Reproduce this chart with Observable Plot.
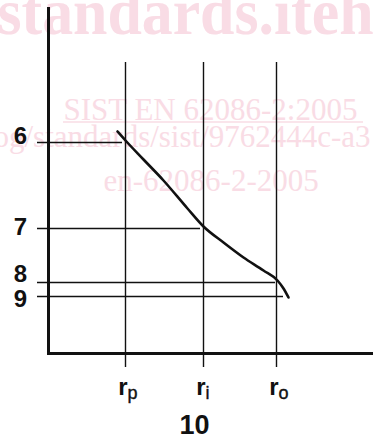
<!DOCTYPE html>
<html>
<head>
<meta charset="utf-8">
<script src="https://cdn.jsdelivr.net/npm/d3@7"></script>
<script src="https://cdn.jsdelivr.net/npm/@observablehq/plot@0.6"></script>
<style>
  html, body { margin: 0; padding: 0; background: #fff; }
  #chart { width: 373px; height: 441px; overflow: hidden; }
</style>
</head>
<body>
<div id="chart"></div>
<script>
// ---- data (arbitrary diagram units) ----
const radiusNames = ["p", "i", "o"];          // r_p, r_i, r_o
const radiusX = [77, 155, 228];

const levelLabels = ["6", "7", "8", "9"];
const levelY = [211, 125, 71, 57];
const levelEndX = [74, 152, 227, 235];

const curveX = [69, 77, 95, 115, 139, 155, 175, 195, 215, 229, 235, 240];
const curveY = [222, 213, 194, 173, 145, 127, 111, 96, 83, 73, 65, 56];

const axisLabel = "10";

const watermark = [
  "standards.iteh",
  "SIST EN 62086-2:2005",
  "og/standards/sist/9762444c-a3",
  "en-62086-2-2005"
];

// ---- build tables ----
const radii = radiusNames.map((n, k) => ({name: n, x: radiusX[k]}));
const levels = levelLabels.map((l, k) => ({label: l, y: levelY[k], x2: levelEndX[k]}));
const curve = curveX.map((x, k) => ({x, y: curveY[k]}));

const ink = "#111";
const pink = "#f9dce5";
const sans = "'Liberation Sans', Arial, Helvetica, sans-serif";
const serif = "'Liberation Serif', 'Times New Roman', serif";

// label nudges (px) so 8 and 9 do not collide
const nudge = {"6": -6, "7": -1, "8": -8, "9": 3};

const wm = (text, dx, dy, size, weight) => Plot.text([text], {
  text: d => d, frameAnchor: "top-left", dx, dy,
  textAnchor: "start", lineAnchor: "bottom",
  fontSize: size, fontWeight: weight, fontFamily: serif, fill: pink
});

const chart = Plot.plot({
  width: 373,
  height: 441,
  marginLeft: 48,
  marginRight: 0,
  marginTop: 7,
  marginBottom: 88,
  x: {domain: [0, 325], axis: null},
  y: {domain: [0, 346], axis: null},
  style: {background: "#fff", overflow: "visible"},
  marks: [
    // watermark
    wm(watermark[0], -51, 26, 66, "bold"),
    wm(watermark[1], 15, 112, 31, "normal"),
    wm(watermark[2], -55, 139, 31, "normal"),
    wm(watermark[3], 55, 183, 31, "normal"),
    // vertical radius lines
    Plot.ruleX(radii, {x: "x", y1: -14, y2: 291, stroke: ink, strokeWidth: 1.4}),
    // horizontal level lines
    Plot.ruleY(levels, {y: "y", x1: -11, x2: "x2", stroke: ink, strokeWidth: 1.6}),
    // axes
    Plot.ruleX([0], {y1: 0, y2: 346, stroke: ink, strokeWidth: 3}),
    Plot.ruleY([0], {x1: -1, x2: 325, stroke: ink, strokeWidth: 3}),
    // curve
    Plot.line(curve, {x: "x", y: "y", curve: "monotone-x", stroke: ink, strokeWidth: 2.6}),
    // level labels
    ...levels.map(d => Plot.text([d], {
      x: -28, y: "y", text: "label", dy: nudge[d.label],
      fontSize: 24, fontWeight: "bold", fontFamily: sans, fill: ink
    })),
    // radius labels r + subscript
    Plot.text(radii, {x: "x", y: -34, text: () => "r", textAnchor: "end", dx: 2,
      fontSize: 24, fontWeight: "bold", fontFamily: sans, fill: ink}),
    Plot.text(radii, {x: "x", y: -40, text: "name", textAnchor: "start", dx: 2,
      fontSize: 18, fontFamily: sans, fill: ink, stroke: ink, strokeWidth: 0.4}),
    // axis callout
    Plot.text([axisLabel], {x: 146, y: -72, text: d => d,
      fontSize: 27, fontWeight: "bold", fontFamily: sans, fill: ink})
  ]
});

// compress the big watermark word to the width it has in the reference
d3.select(chart).selectAll("text")
  .filter(function() { return this.textContent === watermark[0]; })
  .attr("textLength", 376).attr("lengthAdjust", "spacingAndGlyphs");

// underline of the watermark link line
d3.select(chart).insert("line", ":scope > g:nth-of-type(3)")
  .attr("x1", 63).attr("x2", 363).attr("y1", 122).attr("y2", 122)
  .attr("stroke", pink).attr("stroke-width", 1.5);

document.getElementById("chart").appendChild(chart);
</script>
</body>
</html>
